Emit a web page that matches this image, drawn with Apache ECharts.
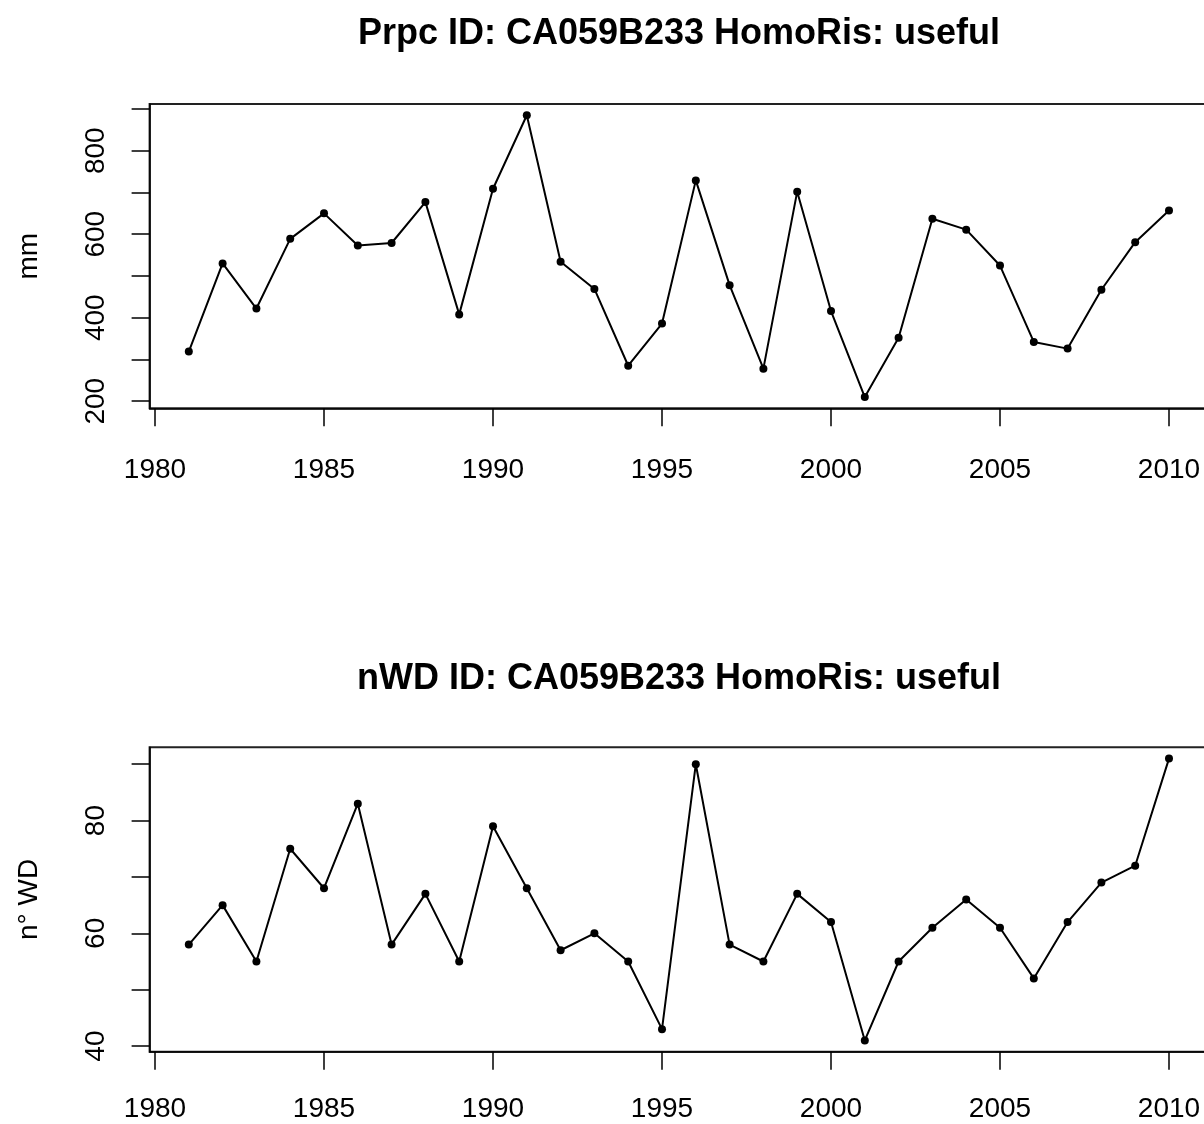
<!DOCTYPE html>
<html>
<head>
<meta charset="utf-8">
<script src="https://cdn.jsdelivr.net/npm/echarts@6/dist/echarts.min.js"></script>
<style>
html,body{margin:0;padding:0;background:#fff;}
#chart{width:1204px;height:1124px;}
</style>
</head>
<body>
<div id="chart"></div>
<script>
const years = [1981,1982,1983,1984,1985,1986,1987,1988,1989,1990,1991,1992,1993,1994,1995,1996,1997,1998,1999,2000,2001,2002,2003,2004,2005,2006,2007,2008,2009,2010];
const prpc = [319,530,422,589,650,573,579,677,408,709,885,534,469,285,386,729,478,278,702,416,210,352,637,611,525,342,326,467,581,657];
const nwd = [58,65,55,75,68,83,58,67,55,79,68,57,60,55,43,90,58,55,67,62,41,55,61,66,61,52,62,69,72,91];
const xTicks = [1980,1985,1990,1995,2000,2005,2010];
const prpcTicks = [200,300,400,500,600,700,800,900];
const prpcLabels = [200,400,600,800];
const nwdTicks = [40,50,60,70,80,90];
const nwdLabels = [40,60,80];
const title1 = 'Prpc ID: CA059B233 HomoRis: useful';
const title2 = 'nWD ID: CA059B233 HomoRis: useful';
const yName1 = 'mm';
const yName2 = 'n° WD';

function ext(arr){ const mn=Math.min(...arr), mx=Math.max(...arr), d=(mx-mn)*0.04; return [mn-d, mx+d]; }
const xr = ext(years), yr1 = ext(prpc), yr2 = ext(nwd);

const font = '"Liberation Sans",Arial,Helvetica,sans-serif';
const axisFont = 28;

function xAxis(gi, margin){
  return {
    type:'value', gridIndex:gi, min:xr[0], max:xr[1],
    axisLine:{show:true, lineStyle:{color:'#000', width:1.5}},
    axisTick:{show:true, length:18, inside:false, customValues:xTicks, lineStyle:{color:'#000', width:1.5}},
    axisLabel:{show:true, customValues:xTicks, margin:margin, fontSize:axisFont, color:'#000', fontFamily:font, formatter:v=>String(v)},
    splitLine:{show:false}
  };
}
function yAxis(gi, rng, ticks, labels, name){
  return {
    type:'value', gridIndex:gi, min:rng[0], max:rng[1],
    name:name, nameLocation:'middle', nameGap:106, nameRotate:90,
    nameTextStyle:{fontSize:axisFont, color:'#000', fontFamily:font},
    axisLine:{show:true, lineStyle:{color:'#000', width:1.5}},
    axisTick:{show:true, length:18, inside:false, customValues:ticks, lineStyle:{color:'#000', width:1.5}},
    axisLabel:{show:true, customValues:labels, rotate:90, margin:39, fontSize:axisFont, color:'#000', fontFamily:font, formatter:v=>String(v)},
    splitLine:{show:false}
  };
}
function series(gi, vals){
  return {
    type:'line', xAxisIndex:gi, yAxisIndex:gi,
    data: years.map((y,i)=>[y, vals[i]]),
    symbol:'circle', symbolSize:8, showSymbol:true,
    lineStyle:{color:'#000', width:2},
    itemStyle:{color:'#000'},
    silent:true, animation:false
  };
}

const chart = echarts.init(document.getElementById('chart'), null, {renderer:'canvas'});
chart.setOption({
  animation:false,
  backgroundColor:'#fff',
  title:[
    {text:title1, left:674, top:11, textAlign:'center', textStyle:{fontSize:36, fontWeight:'bold', color:'#000', fontFamily:font}},
    {text:title2, left:674, top:656, textAlign:'center', textStyle:{fontSize:36, fontWeight:'bold', color:'#000', fontFamily:font}}
  ],
  grid:[
    {left:149.6, top:104, width:1058.6, height:304.3, show:true, borderColor:'#222', borderWidth:2, backgroundColor:'transparent', outerBoundsMode:'none', containLabel:false},
    {left:149.6, top:747.3, width:1058.6, height:304.4, show:true, borderColor:'#222', borderWidth:2, backgroundColor:'transparent', outerBoundsMode:'none', containLabel:false}
  ],
  xAxis:[xAxis(0,48), xAxis(1,44)],
  yAxis:[yAxis(0, yr1, prpcTicks, prpcLabels, yName1), yAxis(1, yr2, nwdTicks, nwdLabels, yName2)],
  series:[series(0, prpc), series(1, nwd)]
});
</script>
</body>
</html>
